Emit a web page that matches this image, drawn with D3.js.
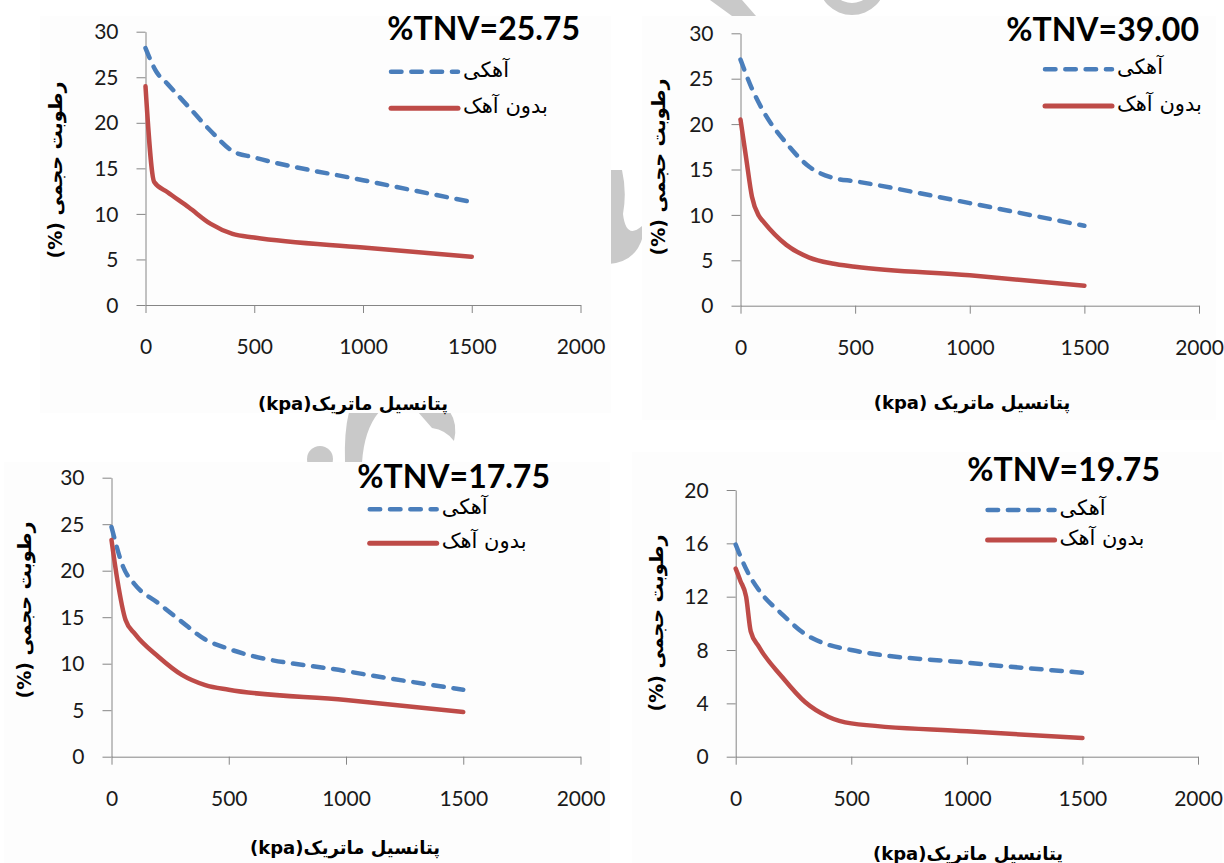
<!DOCTYPE html>
<html><head><meta charset="utf-8">
<script src="https://cdn.jsdelivr.net/npm/d3@7"></script>
<style>
html,body{margin:0;padding:0;background:#fff;}
svg{display:block;}
</style></head><body>
<svg id="chart" width="1224" height="863"></svg>
<script>
// Soil water retention: volumetric water content (%) against matric potential (kPa)
const panelTitles = ["%TNV=25.75", "%TNV=39.00", "%TNV=17.75", "%TNV=19.75"];
const seriesNames = ["آهکی", "بدون آهک"];
const xAxisTitles = ["پتانسیل ماتریک(kpa)", "پتانسیل ماتریک (kpa)", "پتانسیل ماتریک(kpa)", "پتانسیل ماتریک(kpa)"];
const yAxisTitle = "رطوبت حجمی (%)";
const xTicks = [0, 500, 1000, 1500, 2000];
const yTicks30 = [0, 5, 10, 15, 20, 25, 30];
const yTicks20 = [0, 4, 8, 12, 16, 20];

// calcareous soils (dashed)
const limedKpa = [0, 50, 100, 200, 300, 400, 500, 1000, 1500];
const limed1 = [28.2, 25.6, 24.3, 21.7, 19.1, 16.9, 16.2, 13.7, 11.3];
const limed2 = [27.1, 23.9, 21.4, 17.9, 15.3, 14.1, 13.7, 11.3, 8.8];
const limed3 = [24.7, 20.4, 18.5, 16.5, 14.5, 12.6, 11.6, 9.2, 7.2];
const limed4 = [15.9, 13.9, 12.5, 10.7, 9.2, 8.4, 8.0, 7.05, 6.3];

// lime-free soils (solid)
const unlimedKpa1 = [0, 40, 100, 200, 300, 400, 500, 1000, 1500];
const unlimed1 = [24.0, 13.5, 12.4, 10.7, 8.9, 7.8, 7.4, 6.3, 5.3];
const unlimedKpa2 = [0, 25, 50, 80, 100, 200, 300, 400, 500, 1000, 1500];
const unlimed2 = [20.5, 16.2, 12.0, 9.9, 9.25, 6.7, 5.3, 4.65, 4.3, 3.35, 2.2];
const unlimedKpa3 = [0, 25, 60, 100, 200, 300, 400, 500, 1000, 1500];
const unlimed3 = [23.3, 19.0, 14.7, 13.2, 10.75, 8.8, 7.7, 7.2, 6.1, 4.8];
const unlimedKpa4 = [0, 20, 45, 65, 100, 200, 300, 400, 500, 1000, 1500];
const unlimed4 = [14.1, 13.2, 12.0, 9.4, 8.25, 6.0, 4.1, 3.0, 2.5, 1.9, 1.4];

const limedSeries = [limed1, limed2, limed3, limed4];
const unlimedKpa = [unlimedKpa1, unlimedKpa2, unlimedKpa3, unlimedKpa4];
const unlimedSeries = [unlimed1, unlimed2, unlimed3, unlimed4];
const yTickSets = [yTicks30, yTicks30, yTicks30, yTicks20];

// placement of each panel on the page
const panels = [
  {area: [40, 16, 571, 397], x: [145.5, 580.5], y: [305, 31.7], title: [580, 40], legend: [389, 71.7, 108.3], yTitle: [55, 170], xTitle: [353, 403]},
  {area: [642, 16, 574, 404], x: [740.5, 1199], y: [305.7, 33.3], title: [1199, 40.7], legend: [1043, 69.3, 106], yTitle: [657.5, 167], xTitle: [972, 402]},
  {area: [4, 462, 606, 401], x: [111.5, 580.5], y: [756.7, 477.7], title: [550, 488.3], legend: [367.7, 509.3, 543.3], yTitle: [23.7, 610], xTitle: [345, 847]},
  {area: [632, 452, 590, 411], x: [735.7, 1198], y: [756.7, 490], title: [1160, 480.5], legend: [985.6, 510, 540], yTitle: [655.5, 623], xTitle: [968, 853]}
];

const BLUE = "#4a7ebb", RED = "#be4b48", AXIS = "#868686";
const DASH = "10.5,9.8";
const svg = d3.select("#chart");

// faint publisher mark behind the plot areas
const mark = svg.append("g").attr("fill", "#c9c9c9").attr("stroke", "none");
mark.append("path").attr("d", "M710,0 L742,0 L756,16 L732,16 Z");
mark.append("path").attr("d", d3.arc()({innerRadius: 22, outerRadius: 34, startAngle: Math.PI / 2, endAngle: Math.PI * 1.5})).attr("transform", "translate(852,-19)");
mark.append("path").attr("d", "M609,170 L622,170 Q627,192 623,214 Q626,240 642,226 L643,236 Q636,262 609,264 Z");
mark.append("circle").attr("cx", 320).attr("cy", 459).attr("r", 13);
mark.append("path").attr("d", "M349,412 L379,412 Q364,430 362,463 L345,463 Q344,432 349,412 Z");
mark.append("path").attr("d", "M418,412 L450,412 Q458,424 454,441 Q446,430 432,428 Z");

panels.forEach((p, i) => {
  const g = svg.append("g");
  g.append("rect").attr("x", p.area[0]).attr("y", p.area[1]).attr("width", p.area[2]).attr("height", p.area[3]).attr("fill", "#fdfdfd");

  const yt = yTickSets[i];
  const x = d3.scaleLinear().domain([0, 2000]).range(p.x);
  const y = d3.scaleLinear().domain([0, yt[yt.length - 1]]).range(p.y);

  // axes
  const ax = g.append("g").attr("transform", `translate(0,${p.y[0]})`)
    .call(d3.axisBottom(x).tickValues(xTicks).tickSize(8).tickSizeOuter(0).tickFormat(d3.format("d")));
  ax.selectAll("text").attr("y", 42).attr("dy", "0.35em");
  const ay = g.append("g").attr("transform", `translate(${p.x[0]},0)`)
    .call(d3.axisLeft(y).tickValues(yt).tickSize(9).tickSizeOuter(0).tickPadding(18));
  ay.selectAll("text").attr("dy", "0.34em");
  [ax, ay].forEach(a => {
    a.select(".domain").attr("stroke", AXIS);
    a.selectAll(".tick line").attr("stroke", AXIS);
    a.selectAll("text").attr("fill", "#1a1a1a").style("font-family", "Lato, 'Open Sans', sans-serif").style("font-size", "21px");
  });

  // curves
  const line = d3.line().x(d => x(d[0])).y(d => y(d[1])).curve(d3.curveMonotoneX);
  g.append("path").datum(limedKpa.map((k, j) => [k, limedSeries[i][j]]))
    .attr("d", line).attr("fill", "none").attr("stroke", BLUE).attr("stroke-width", 4.5)
    .attr("stroke-dasharray", DASH).attr("stroke-linecap", "round");
  g.append("path").datum(unlimedKpa[i].map((k, j) => [k, unlimedSeries[i][j]]))
    .attr("d", line).attr("fill", "none").attr("stroke", RED).attr("stroke-width", 4.5)
    .attr("stroke-linecap", "round").attr("stroke-linejoin", "round");

  // title
  g.append("text").attr("x", p.title[0]).attr("y", p.title[1]).attr("text-anchor", "end")
    .style("font-family", "Lato, sans-serif").style("font-weight", "bold").style("font-size", "32px")
    .attr("fill", "#000").text(panelTitles[i]);

  // legend
  const [lx, ly1, ly2] = p.legend;
  g.append("line").attr("x1", lx + 2).attr("x2", lx + 69).attr("y1", ly1).attr("y2", ly1)
    .attr("stroke", BLUE).attr("stroke-width", 4.5).attr("stroke-dasharray", DASH).attr("stroke-linecap", "round");
  g.append("line").attr("x1", lx + 2).attr("x2", lx + 69).attr("y1", ly2).attr("y2", ly2)
    .attr("stroke", RED).attr("stroke-width", 5).attr("stroke-linecap", "round");
  [[ly1, seriesNames[0]], [ly2, seriesNames[1]]].forEach(([ly, name]) => {
    g.append("text").attr("x", lx + 74).attr("y", ly + 5).attr("text-anchor", "start")
      .style("font-family", "'DejaVu Sans', sans-serif").style("font-size", "21px").attr("fill", "#000").text(name);
  });

  // axis titles
  g.append("text").attr("transform", `translate(${p.yTitle[0]},${p.yTitle[1]}) rotate(-90)`)
    .attr("direction", "rtl").attr("text-anchor", "middle").attr("dominant-baseline", "central")
    .style("font-family", "'DejaVu Sans', sans-serif").style("font-weight", "bold").style("font-size", "19px")
    .attr("fill", "#000").text(yAxisTitle);
  g.append("text").attr("x", p.xTitle[0]).attr("y", p.xTitle[1])
    .attr("direction", "rtl").attr("text-anchor", "middle").attr("dominant-baseline", "central")
    .style("font-family", "'DejaVu Sans', sans-serif").style("font-weight", "bold").style("font-size", "18px")
    .attr("fill", "#000").text(xAxisTitles[i]);
});
</script>
</body></html>
